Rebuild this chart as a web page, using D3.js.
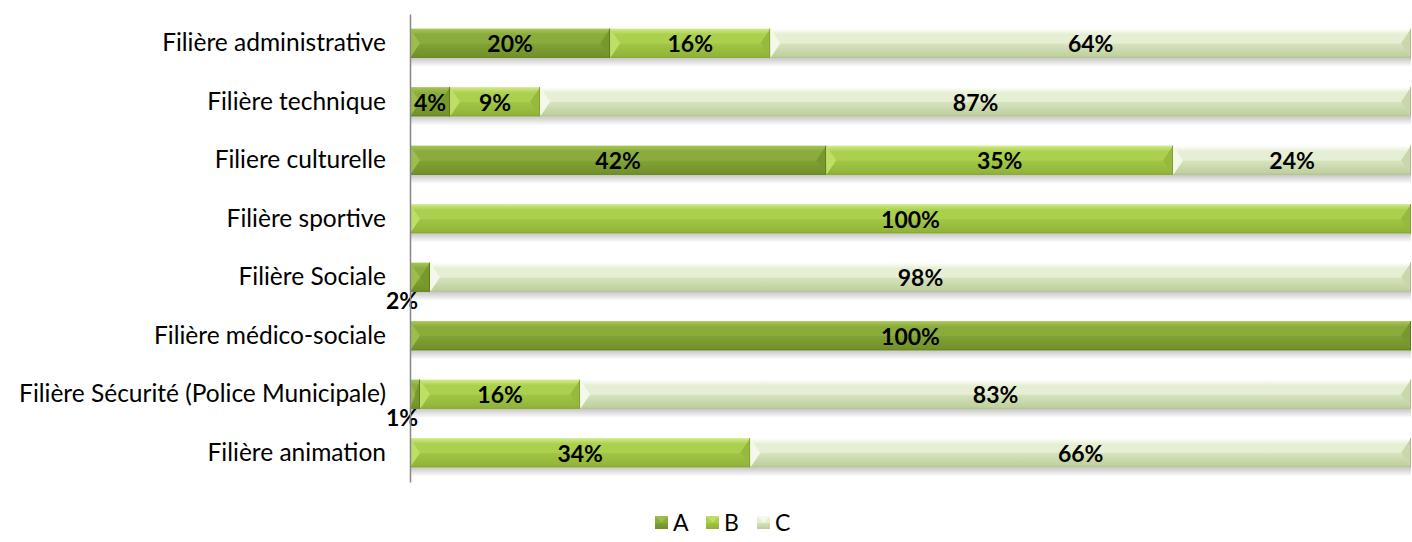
<!DOCTYPE html>
<html>
<head>
<meta charset="utf-8">
<script src="https://cdn.jsdelivr.net/npm/d3@7"></script>
<style>
  html, body { margin: 0; padding: 0; background: #fff; }
  svg { display: block; }
  text { font-family: Lato, "Open Sans", sans-serif; }
</style>
</head>
<body>
<svg id="chart" width="1412" height="542"></svg>
<script>
// Répartition par catégorie (A / B / C) pour chaque filière
const categories = [
  "Filière administrative",
  "Filière technique",
  "Filiere culturelle",
  "Filière sportive",
  "Filière Sociale",
  "Filière médico-sociale",
  "Filière Sécurité (Police Municipale)",
  "Filière animation"
];
const seriesNames = ["A", "B", "C"];
const valuesA = [20, 4, 42, 0, 2, 100, 1, 0];
const valuesB = [16, 9, 35, 100, 0, 0, 16, 34];
const valuesC = [64, 87, 24, 0, 98, 0, 83, 66];

// Teintes : [haut, milieu, bas, face gauche, face droite]
const palette = {
  A: ["#a6c756", "#8aac3c", "#708f28", "#9cbe4a", "#78982e"],
  B: ["#d2ea8c", "#aad04e", "#8fb236", "#bfde66", "#96b93e"],
  C: ["#ffffff", "#e6efd4", "#bccd98", "#f4f8ea", "#c9d8aa"]
};
const edgeColor = { A: "#5c7a1c", B: "#7e9f2c", C: "#a9bb86" };

const svg = d3.select("#chart");
const margin = { top: 14, right: 1, bottom: 60, left: 410 };
const W = 1412, H = 542;
const plotW = W - margin.left - margin.right;
const plotH = H - margin.top - margin.bottom;

const defs = svg.append("defs");
seriesNames.forEach(s => {
  const g = defs.append("linearGradient")
    .attr("id", "grad-" + s).attr("x1", 0).attr("y1", 0).attr("x2", 0).attr("y2", 1);
  g.append("stop").attr("offset", "0%").attr("stop-color", palette[s][0]);
  g.append("stop").attr("offset", "20%").attr("stop-color", palette[s][1]);
  g.append("stop").attr("offset", "50%").attr("stop-color", palette[s][1]);
  g.append("stop").attr("offset", "52%").attr("stop-color", d3.interpolateRgb(palette[s][1], palette[s][2])(0.35));
  g.append("stop").attr("offset", "100%").attr("stop-color", palette[s][2]);
});
const sh = defs.append("linearGradient")
  .attr("id", "shadow").attr("x1", 0).attr("y1", 0).attr("x2", 0).attr("y2", 1);
sh.append("stop").attr("offset", "0%").attr("stop-color", "#000").attr("stop-opacity", 0.22);
sh.append("stop").attr("offset", "100%").attr("stop-color", "#000").attr("stop-opacity", 0);

const rows = categories.map((c, i) => ({
  category: c,
  A: valuesA[i], B: valuesB[i], C: valuesC[i]
}));

const y = d3.scaleBand().domain(categories).range([0, plotH]).paddingInner(0.5).paddingOuter(0.25);
const x = d3.scaleLinear().domain([0, 1]).range([0, plotW]);

const plot = svg.append("g").attr("transform", `translate(${margin.left},${margin.top})`);

// Empilement à 100 %
const segments = [];
rows.forEach(r => {
  const total = seriesNames.reduce((s, k) => s + r[k], 0);
  let acc = 0;
  seriesNames.forEach(k => {
    const v = r[k];
    if (v > 0) {
      segments.push({ category: r.category, series: k, value: v, x0: acc / total, x1: (acc + v) / total });
    }
    acc += v;
  });
});

// Ombres sous les barres
rows.forEach(r => {
  plot.append("rect")
    .attr("x", x(0)).attr("width", x(1) - x(0))
    .attr("y", y(r.category) + y.bandwidth()).attr("height", 9)
    .attr("fill", "url(#shadow)");
});

const seg = plot.selectAll("g.seg").data(segments).join("g").attr("class", "seg");
seg.each(function(d) {
  const g = d3.select(this);
  const x0 = x(d.x0), x1 = x(d.x1);
  const y0 = y(d.category), h = y.bandwidth(), y1 = y0 + h;
  const w = Math.min(10, (x1 - x0) / 2);
  g.append("rect").attr("x", x0).attr("y", y0).attr("width", x1 - x0).attr("height", h)
    .attr("fill", `url(#grad-${d.series})`);
  g.append("polygon")
    .attr("points", [[x0, y0], [x0 + w, y0 + h / 2], [x0, y1]].map(p => p.join(",")).join(" "))
    .attr("fill", palette[d.series][3]);
  g.append("polygon")
    .attr("points", [[x1, y0], [x1 - w, y0 + h / 2], [x1, y1]].map(p => p.join(",")).join(" "))
    .attr("fill", palette[d.series][4]);
  g.append("line").attr("x1", x1 - 0.5).attr("x2", x1 - 0.5).attr("y1", y0).attr("y2", y1)
    .attr("stroke", edgeColor[d.series]).attr("stroke-width", 1);
  g.append("line").attr("x1", x0).attr("x2", x1).attr("y1", y1 - 0.5).attr("y2", y1 - 0.5)
    .attr("stroke", edgeColor[d.series]).attr("stroke-width", 1).attr("stroke-opacity", 0.6);
});

// Étiquettes de valeurs
seg.append("text")
  .attr("x", d => d.value < 3 ? x(d.x0) - 8 : x((d.x0 + d.x1) / 2))
  .attr("y", d => d.value < 3 ? y(d.category) + y.bandwidth() + 17 : y(d.category) + y.bandwidth() / 2 + 9)
  .attr("text-anchor", "middle")
  .attr("font-size", 23).attr("font-weight", "bold").attr("fill", "#000")
  .text(d => d.value + "%");

// Axe des catégories
const axis = plot.append("g").call(d3.axisLeft(y).tickSize(0).tickPadding(24));
axis.select(".domain").attr("stroke", "#868686").attr("stroke-width", 1.5);
axis.selectAll("text").attr("font-size", 24.5).attr("fill", "#000")
  .style("font-family", "Lato, 'Open Sans', sans-serif");

// Légende
const legend = svg.append("g").attr("transform", `translate(655, 522)`);
const legendX = d3.scalePoint().domain(seriesNames).range([0, 102]);
const li = legend.selectAll("g").data(seriesNames).join("g")
  .attr("transform", d => `translate(${legendX(d)},0)`);
li.append("rect").attr("x", 0).attr("y", -6).attr("width", 13).attr("height", 13)
  .attr("fill", d => `url(#grad-${d})`);
li.append("polygon").attr("points", "0,-6 6.5,0.5 13,-6").attr("fill", d => palette[d][3]);
li.append("text").attr("x", 18).attr("y", 9).attr("font-size", 23).attr("fill", "#000").text(d => d);
</script>
</body>
</html>
